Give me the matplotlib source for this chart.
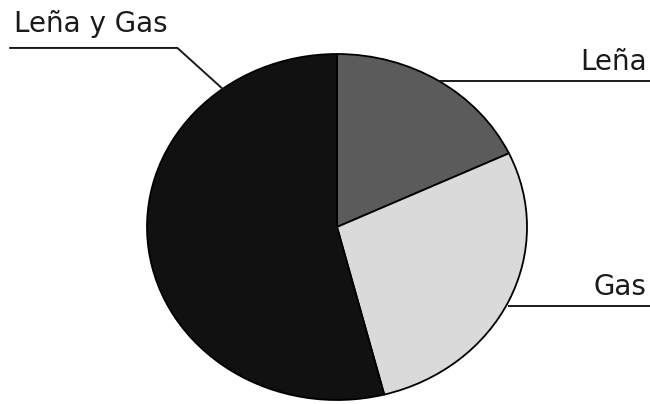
import numpy as np
import matplotlib
matplotlib.use("Agg")
import matplotlib.pyplot as plt

labels = ['Leña', 'Gas', 'Leña y Gas']
values = [18, 28, 54]
colors = ['#5b5b5b', '#dadada', '#111111']

fig = plt.figure(figsize=(6.5, 4.04), dpi=100)
# pie is drawn as a slightly wide ellipse in the original
ax = fig.add_axes([147 / 650, 4 / 404, 380 / 650, 346 / 404])

wedges, _ = ax.pie(
    values,
    colors=colors,
    startangle=90,
    counterclock=False,
    wedgeprops=dict(edgecolor='black', linewidth=1.3),
)
ax.set_aspect('auto')
ax.set_xlim(-1, 1)
ax.set_ylim(-1, 1)
ax.axis('off')

font = dict(family='DejaVu Sans', fontsize=20, color='#1a1a1a')
line = dict(color='#1a1a1a', lw=1.4, clip_on=False)

# Leña: leader from wedge middle to right edge
w = wedges[0]
a = np.deg2rad((w.theta1 + w.theta2) / 2)
ax.plot([np.cos(a), 1.65], [np.sin(a), np.sin(a)], **line)
ax.text(1.63, np.sin(a) + 0.03, labels[0], ha='right', va='bottom', **font)

# Gas
w = wedges[1]
a = np.deg2rad((w.theta1 + w.theta2) / 2)
ax.plot([np.cos(a), 1.65], [np.sin(a) - 0.03, np.sin(a) - 0.03], **line)
ax.text(1.63, np.sin(a) + 0.0, labels[1], ha='right', va='bottom', **font)

# Leña y Gas: bent leader to upper left
a = np.deg2rad(127)
ax.plot([np.cos(a), -0.84, -1.72], [np.sin(a), 1.035, 1.035], **line)
ax.text(-1.70, 1.09, labels[2], ha='left', va='bottom', **font)

fig.savefig('out.png', dpi=100, facecolor='white')
